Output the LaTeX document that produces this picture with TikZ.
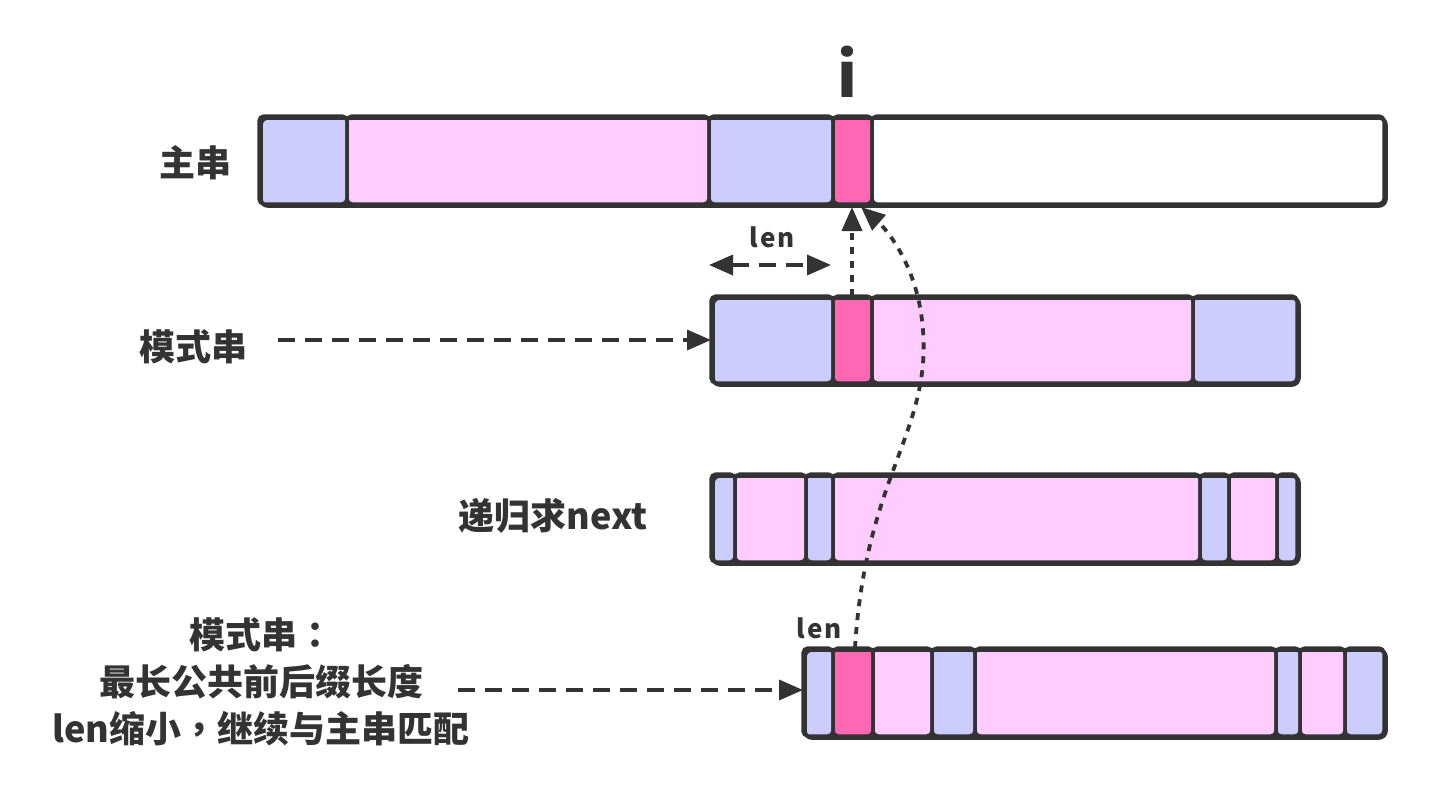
\documentclass[tikz,border=0pt]{standalone}
\usepackage{fontspec}
\setmainfont{Noto Sans CJK SC}
\newfontfamily\tcfont{Noto Sans CJK TC}
\newfontfamily\lenfont{Noto Sans CJK SC}[LetterSpace=6]
\usetikzlibrary{arrows.meta}
\definecolor{ink}{HTML}{333333}
\definecolor{cblue}{HTML}{CCCCFF}
\definecolor{cpink}{HTML}{FFCCFF}
\definecolor{cred}{HTML}{FF66B3}
\newcommand\segbox[5]{\draw[segstyle, fill=#5] (#1,#3) rectangle (#2,#4);}
\tikzset{
  segstyle/.style={draw=ink, line width=3.5pt, rounded corners=5pt},
  rowframe/.style={draw=ink, line width=3.8pt, rounded corners=7pt, inner sep=0pt, anchor=north west},
  lbl/.style={text=ink, font=\bfseries\fontsize{36}{47}\selectfont, inner sep=0pt},
  smalllbl/.style={text=ink, font=\lenfont\bfseries\fontsize{26}{30}\selectfont, inner sep=0pt},
  tip/.style={-{Triangle[length=24pt,width=20pt]}},
  dashline/.style={draw=ink, line width=3.5pt, dash pattern=on 17pt off 10pt},
  dotline/.style={draw=ink, line width=3.8pt, dash pattern=on 7pt off 7pt},
}
\begin{document}
\begin{tikzpicture}[x=1pt,y=-1pt]
\useasboundingbox (0,0) rectangle (1435,793);
% ---- main string
\segbox{259}{347}{116}{204}{cblue}
\segbox{347}{709}{116}{204}{cpink}
\segbox{709}{833}{116}{204}{cblue}
\segbox{833}{872}{116}{204}{cred}
\segbox{872}{1384}{116}{204}{white}
\node[rowframe, minimum width=1125pt, minimum height=88pt] (main) at (259,116) {};
% ---- pattern
\segbox{711}{833}{296}{383}{cblue}
\segbox{833}{872}{296}{383}{cred}
\segbox{872}{1193}{296}{383}{cpink}
\segbox{1193}{1297}{296}{383}{cblue}
\node[rowframe, minimum width=586pt, minimum height=87pt] (pat) at (711,296) {};
% ---- next
\segbox{711}{735}{474}{562}{cblue}
\segbox{735}{806}{474}{562}{cpink}
\segbox{806}{833}{474}{562}{cblue}
\segbox{833}{1200}{474}{562}{cpink}
\segbox{1200}{1229}{474}{562}{cblue}
\segbox{1229}{1277}{474}{562}{cpink}
\segbox{1277}{1297}{474}{562}{cblue}
\node[rowframe, minimum width=586pt, minimum height=88pt] (nxt) at (711,474) {};
% ---- shifted pattern
\segbox{803}{833}{648}{736}{cblue}
\segbox{833}{873}{648}{736}{cred}
\segbox{873}{932}{648}{736}{cpink}
\segbox{932}{975}{648}{736}{cblue}
\segbox{975}{1276}{648}{736}{cpink}
\segbox{1276}{1300}{648}{736}{cblue}
\segbox{1300}{1345}{648}{736}{cpink}
\segbox{1345}{1384}{648}{736}{cblue}
\node[rowframe, minimum width=581pt, minimum height=88pt] (pat2) at (803,648) {};
% ---- labels
\node[text=ink, font=\bfseries\fontsize{62}{62}\selectfont, inner sep=0pt] (ilbl) at (847,72) {i};
\node[lbl] (lmain) at (195,163) {主串};
\node[lbl] (lpat) at (193,347) {模式串};
\node[lbl] (lnext) at (553,516) {递归求next};
\node[lbl, align=center] (lnote) at (261,682) {模式串{\tcfont ：}\\最长公共前后缀长度\\len缩小{\tcfont ，}继续与主串匹配};
\node[smalllbl] (len1) at (772,237) {len};
\node[smalllbl] (len2) at (819,628) {len};
% ---- connectors
\coordinate (patStart) at (278,340);
\coordinate (noteStart) at (458,690);
\coordinate (mtip) at (852,207);
\coordinate (ctip) at (861,207);
\coordinate (pTop) at (852,296);
\coordinate (p2Top) at (855,648);
\coordinate (lenL) at (709,265);
\coordinate (lenR) at (831,265);
\draw[dashline, tip] (patStart) -- (pat.west |- patStart);
\draw[dashline, tip] (noteStart) -- (pat2.west |- noteStart);
\draw[dashline, {Triangle[length=24pt,width=20pt]}-{Triangle[length=24pt,width=20pt]}] (lenL) -- (lenR);
\draw[dotline, tip] (pTop) -- (mtip);
\draw[dotline, tip] (p2Top) .. controls (866,470) and (935,430) .. (922,320) .. controls (915,262) and (885,228) .. (ctip);
\end{tikzpicture}
\end{document}
